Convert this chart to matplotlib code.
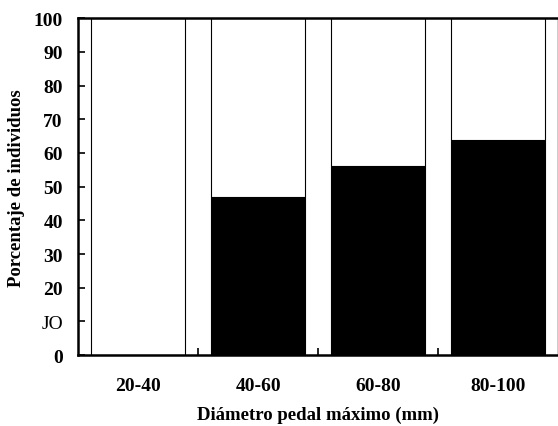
import matplotlib

matplotlib.use("Agg")
import matplotlib.pyplot as plt
import numpy as np

# data
categories = ["20-40", "40-60", "60-80", "80-100"]
black_pct = [0, 47, 56, 64]
total_pct = [100, 100, 100, 100]
ytick_vals = [0, 10, 20, 30, 40, 50, 60, 70, 80, 90, 100]
ytick_labels = ["0", "JO", "20", "30", "40", "50", "60", "70", "80", "90", "100"]

plt.rcParams["font.family"] = ["Liberation Serif", "DejaVu Serif"]

fig = plt.figure(figsize=(5.58, 4.27), dpi=100)
ax = fig.add_axes([0.140, 0.166, 0.860, 0.789])

x = np.arange(len(categories))
width = 0.78
white = np.array(total_pct) - np.array(black_pct)
ax.bar(x, black_pct, width, color="black", edgecolor="black", linewidth=0.8)
ax.bar(x, white, width, bottom=black_pct, color="white", edgecolor="black", linewidth=0.8)

ax.set_xlim(-0.5, len(categories) - 0.5)
ax.set_ylim(0, 100)

ax.set_xticks(x)
ax.set_xticklabels(categories, fontsize=14, fontweight="bold")
ax.tick_params(axis="x", which="major", length=0, pad=16)
ax.set_xticks(x[:-1] + 0.5, minor=True)
ax.tick_params(axis="x", which="minor", direction="in", length=5, width=1.2)

ax.set_yticks(ytick_vals)
ax.set_yticklabels(ytick_labels, fontsize=14, fontweight="bold")
for lab in ax.get_yticklabels():
    if lab.get_text() == "JO":
        lab.set_fontweight("normal")
ax.tick_params(axis="y", direction="in", length=5, width=1.2, pad=11)

for side in ["left", "bottom", "top"]:
    ax.spines[side].set_linewidth(1.8)
ax.spines["right"].set_linewidth(1.0)

ax.set_ylabel("Porcentaje de individuos", fontsize=13.5, fontweight="bold", labelpad=6)
ax.set_xlabel("Diámetro pedal máximo (mm)", fontsize=13.5, fontweight="bold", labelpad=8)

fig.savefig("out.png", dpi=100)
